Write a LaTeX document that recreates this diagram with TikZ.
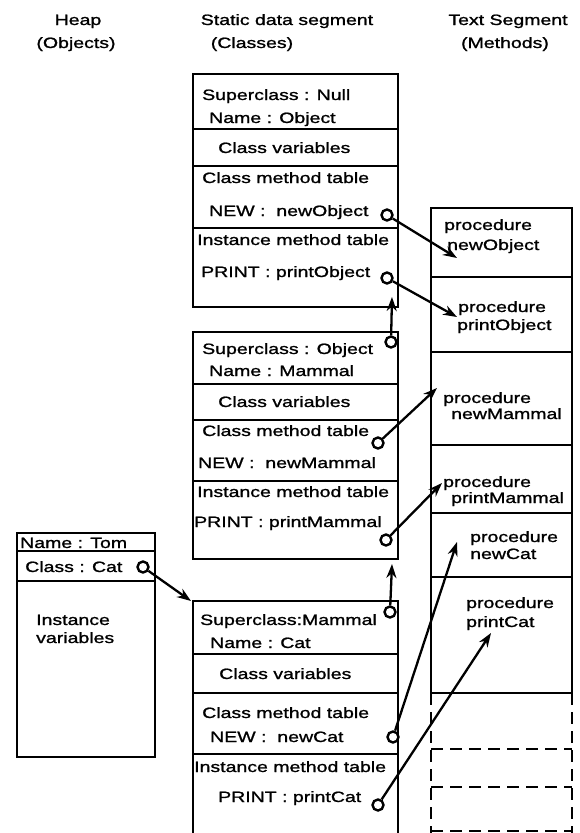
\documentclass[tikz,border=0pt]{standalone}
\usepackage{fontspec}
\setmainfont[FakeStretch=1.3,FakeBold=1.2]{Liberation Sans}
\usetikzlibrary{arrows.meta}

\begin{document}
\begin{tikzpicture}[x=1pt,y=-1pt,
    box/.style={line width=2.8pt},
    dbox/.style={line width=2.8pt,dash pattern=on 12pt off 7pt},
    lbl/.style={anchor=base west,inner sep=0pt,font=\fontsize{15}{18}\selectfont},
    hdr/.style={anchor=base,inner sep=0pt,font=\fontsize{15}{18}\selectfont},
    port/.style={circle,draw,fill=white,line width=2.4pt,inner sep=0pt,minimum size=11pt},
    ptr/.style={line width=2.3pt,-{Stealth[length=14pt,width=10pt]}}]
    \useasboundingbox (0,0) rectangle (579,833);
    % headers
    \node[hdr] (hHeap) at (78,25) {Heap};
    \node[hdr] (hObjects) at (76,48) {(Objects)};
    \node[hdr] (hStatic) at (287,25) {Static data segment};
    \node[hdr] (hClasses) at (252,48) {(Classes)};
    \node[hdr] (hText) at (508,25) {Text Segment};
    \node[hdr] (hMethods) at (505,48) {(Methods)};
    % class Object
    \draw[box] (193,74) rectangle (398,307);
    \draw[box] (193,129) -- (398,129);
    \draw[box] (193,166) -- (398,166);
    \draw[box] (193,228) -- (398,228);
    \node[lbl] (oSup) at (202,100) {Superclass : Null};
    \node[lbl] (oName) at (209,123) {Name : Object};
    \node[lbl] (oCv) at (218,153) {Class variables};
    \node[lbl] (oCmt) at (202,183) {Class method table};
    \node[lbl] (oNew) at (209,216) {NEW :~~newObject};
    \node[lbl] (oImt) at (197,245) {Instance method table};
    \node[lbl] (oPrint) at (201,277) {PRINT : printObject};
    % class Mammal
    \draw[box] (193,332) rectangle (398,559);
    \draw[box] (193,384) -- (398,384);
    \draw[box] (193,420) -- (398,420);
    \draw[box] (193,481) -- (398,481);
    \node[lbl] (mSup) at (202,354) {Superclass : Object};
    \node[lbl] (mName) at (209,376) {Name : Mammal};
    \node[lbl] (mCv) at (218,407) {Class variables};
    \node[lbl] (mCmt) at (202,436) {Class method table};
    \node[lbl] (mNew) at (198,468) {NEW :~~newMammal};
    \node[lbl] (mImt) at (197,497) {Instance method table};
    \node[lbl] (mPrint) at (194,527) {PRINT : printMammal};
    % class Cat
    \draw[box] (193,845) -- (193,601) -- (398,601) -- (398,845);
    \draw[box] (193,654) -- (398,654);
    \draw[box] (193,693) -- (398,693);
    \draw[box] (193,754) -- (398,754);
    \node[lbl] (cSup) at (200,625) {Superclass:Mammal};
    \node[lbl] (cName) at (210,648) {Name : Cat};
    \node[lbl] (cCv) at (219,679) {Class variables};
    \node[lbl] (cCmt) at (202,718) {Class method table};
    \node[lbl] (cNew) at (210,742) {NEW :~~newCat};
    \node[lbl] (cImt) at (194,772) {Instance method table};
    \node[lbl] (cPrint) at (218,802) {PRINT : printCat};
    % object Tom
    \draw[box] (17,533) rectangle (155,757);
    \draw[box] (17,551) -- (155,551);
    \draw[box] (17,581) -- (155,581);
    \node[lbl] (tName) at (20,548) {Name : Tom};
    \node[lbl] (tClass) at (25,572) {Class : Cat};
    \node[lbl] (tInst) at (36,625) {Instance};
    \node[lbl] (tVars) at (36,643) {variables};
    % text segment
    \draw[box] (431,693) -- (431,208) -- (572,208) -- (572,693);
    \draw[box] (431,277) -- (572,277);
    \draw[box] (431,352) -- (572,352);
    \draw[box] (431,445) -- (572,445);
    \draw[box] (431,513) -- (572,513);
    \draw[box] (431,577) -- (572,577);
    \draw[box] (431,693) -- (572,693);
    \draw[dbox] (431,693) -- (431,845);
    \draw[dbox] (572,693) -- (572,845);
    \draw[dbox] (431,749) -- (572,749);
    \draw[dbox] (431,787) -- (572,787);
    \draw[dbox] (431,831) -- (572,831);
    \node[lbl] (pNewObj) at (444,230) {procedure};
    \node[lbl] (nNewObj) at (447,250) {newObject};
    \node[lbl] (pPrintObj) at (458,312) {procedure};
    \node[lbl] (nPrintObj) at (457,330) {printObject};
    \node[lbl] (pNewMam) at (443,403) {procedure};
    \node[lbl] (nNewMam) at (451,419) {newMammal};
    \node[lbl] (pPrintMam) at (443,487) {procedure};
    \node[lbl] (nPrintMam) at (451,503) {printMammal};
    \node[lbl] (pNewCat) at (470,542) {procedure};
    \node[lbl] (nNewCat) at (470,559) {newCat};
    \node[lbl] (pPrintCat) at (466,608) {procedure};
    \node[lbl] (nPrintCat) at (466,627) {printCat};
    % pointer ends
    \coordinate (aNewObj) at (457,258);
    \coordinate (aPrintObj) at (457,317);
    \coordinate (aNewMam) at (437,388);
    \coordinate (aPrintMam) at (442,483);
    \coordinate (aNewCat) at (457,542);
    \coordinate (aPrintCat) at (491,633);
    \coordinate (aObject) at (392,297);
    \coordinate (aMammal) at (392,564);
    \coordinate (aCat) at (191,601);
    % ports
    \node[port] (oNewP) at (387,215) {};
    \node[port] (oPrintP) at (387,278) {};
    \node[port] (mSupP) at (391,342) {};
    \node[port] (mNewP) at (378,443) {};
    \node[port] (mPrintP) at (386,540) {};
    \node[port] (cSupP) at (390,612) {};
    \node[port] (cNewP) at (393,737) {};
    \node[port] (cPrintP) at (378,805) {};
    \node[port] (tClassP) at (143,567) {};
    % pointers
    \draw[ptr] (oNewP) -- (aNewObj);
    \draw[ptr] (oPrintP) -- (aPrintObj);
    \draw[ptr] (mSupP) -- (aObject);
    \draw[ptr] (mNewP) -- (aNewMam);
    \draw[ptr] (mPrintP) -- (aPrintMam);
    \draw[ptr] (cSupP) -- (aMammal);
    \draw[ptr] (cNewP) -- (aNewCat);
    \draw[ptr] (cPrintP) -- (aPrintCat);
    \draw[ptr] (tClassP) -- (aCat);
\end{tikzpicture}
\end{document}
